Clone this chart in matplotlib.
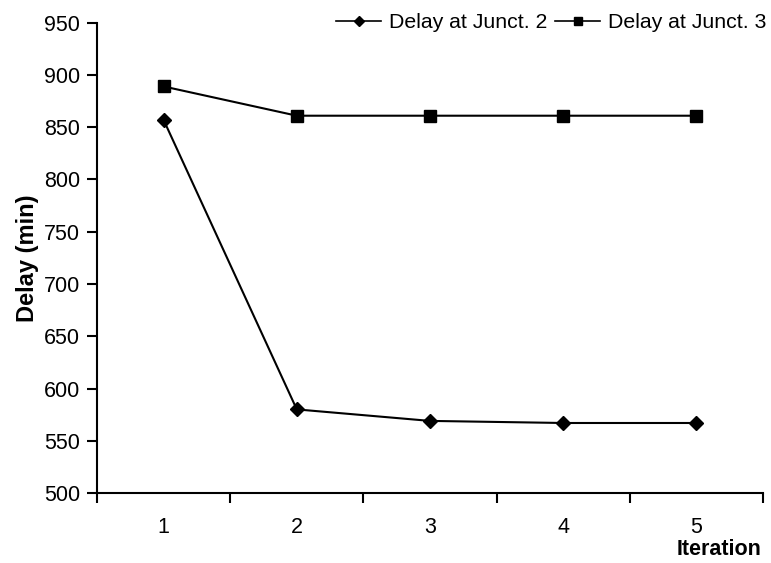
import matplotlib
matplotlib.use("Agg")
import matplotlib.pyplot as plt
from matplotlib.lines import Line2D

plt.rcParams['font.family'] = ['Liberation Sans', 'DejaVu Sans']

iterations = [1, 2, 3, 4, 5]
delay_junct2 = [857, 580, 569, 567, 567]
delay_junct3 = [889, 861, 861, 861, 861]
y_ticks = [500, 550, 600, 650, 700, 750, 800, 850, 900, 950]

fig = plt.figure(figsize=(7.71, 5.63), dpi=100)
ax = fig.add_axes([0.1258, 0.1243, 0.8638, 0.8354])

ax.plot(iterations, delay_junct2, color='black', lw=1.5, marker='D', ms=7,
        label='Delay at Junct. 2')
ax.plot(iterations, delay_junct3, color='black', lw=1.5, marker='s', ms=9,
        label='Delay at Junct. 3')

ax.set_xlim(0.5, 5.5)
ax.set_ylim(500, 950)
ax.set_yticks(y_ticks)
ax.set_xticks(iterations)
ax.set_xticks([0.5, 1.5, 2.5, 3.5, 4.5, 5.5], minor=True)
ax.tick_params(axis='x', which='major', length=0, pad=17.5, labelsize=15.5)
ax.tick_params(axis='x', which='minor', length=7, width=1.5, direction='out')
ax.tick_params(axis='y', length=7, width=1.5, direction='out', labelsize=15.5, pad=5)

for side in ('top', 'right'):
    ax.spines[side].set_visible(False)
for side in ('left', 'bottom'):
    ax.spines[side].set_linewidth(1.5)

ax.set_ylabel('Delay (min)', fontsize=17, fontweight='bold', labelpad=4)
fig.text(0.9883, 0.014, 'Iteration', fontsize=15.5, fontweight='bold', ha='right', va='baseline')

handles = [
    Line2D([], [], color='black', lw=1.2, marker='D', ms=5),
    Line2D([], [], color='black', lw=1.2, marker='s', ms=6),
]
fig.legend(handles, ['Delay at Junct. 2', 'Delay at Junct. 3'], loc='upper right',
           bbox_to_anchor=(1.0, 0.984), ncol=2, frameon=False, fontsize=15.3,
           handlelength=2.1, handletextpad=0.4, columnspacing=0.35, borderaxespad=0.0,
           borderpad=0.2)

fig.savefig('out.png', dpi=100)
